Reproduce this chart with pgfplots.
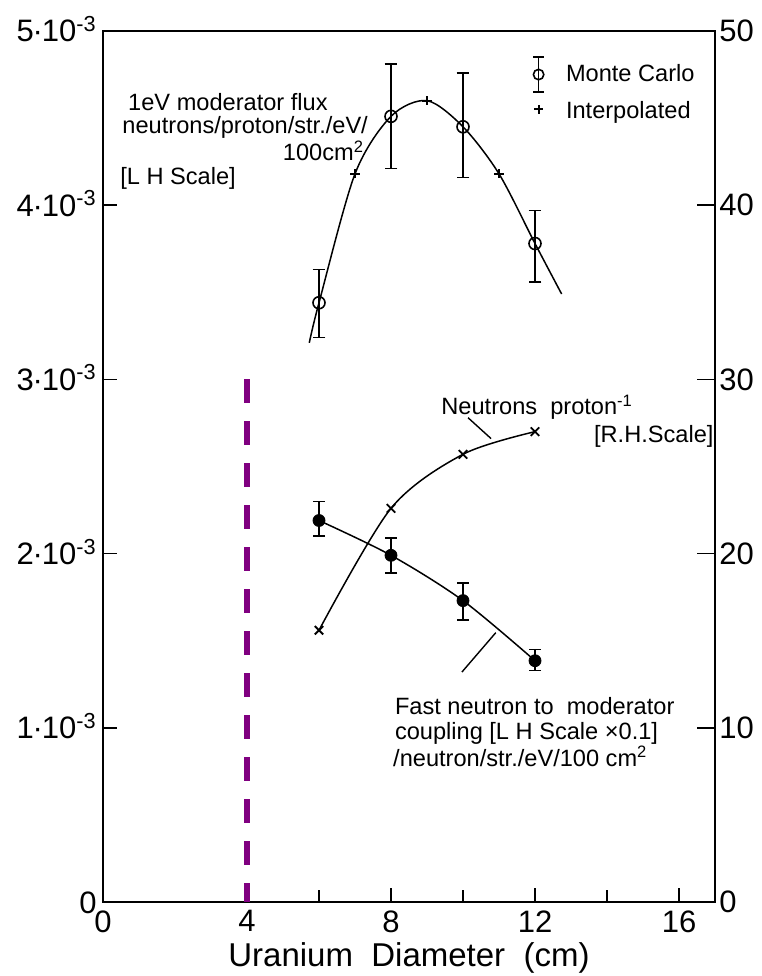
\documentclass[border=0pt]{standalone}
\usepackage{pgfplots}
\pgfplotsset{compat=1.18}
\usepackage{fontspec}
\setmainfont{Liberation Sans}
\definecolor{dashpurple}{RGB}{128,0,128}
\newcommand\af{\fontsize{11.8}{14}\selectfont}
\newcommand\tf{\fontsize{15.5}{18}\selectfont}
\newcommand\cd{\kern-0.6pt·\kern-0.6pt}
\begin{document}
\begin{tikzpicture}
\begin{axis}[name=ax, scale only axis, width=306pt, height=435.5pt,
  xmin=0, xmax=17, ymin=0, ymax=5,
  clip=false,
  axis line style={line width=0.8pt},
  tick align=inside, xtick pos=left, ytick pos=left,
  tick style={line width=0.8pt, black},
  major tick length=7pt, minor tick length=6pt,
  xtick={0,4,8,12,16}, minor xtick={6,10,14},
  ytick={0,1,2,3,4,5},
  yticklabels={0, 1\cd10\textsuperscript{-3}, 2\cd10\textsuperscript{-3}, 3\cd10\textsuperscript{-3}, 4\cd10\textsuperscript{-3}, 5\cd10\textsuperscript{-3}},
  /pgf/number format/assume math mode=true,
  xticklabel style={font=\tf, anchor=north, inner sep=0pt, yshift=-4pt},
  yticklabel style={font=\tf, anchor=base east, inner sep=0pt, xshift=-3pt, yshift=-5.5pt},
  xlabel={Uranium\ \ Diameter\ \ (cm)},
  xlabel style={font=\fontsize{16.5}{20}\selectfont, at={(axis description cs:0.5,0)}, anchor=center, yshift=-28pt},
]
% dashed marker line
\addplot[dashpurple, line width=3.3pt, dash pattern=on 12pt off 9pt] coordinates {(4,3) (4,0)};
% upper curve
\addplot[black, line width=0.75pt, smooth] coordinates {(5.73,3.21) (6,3.44) (7,4.18) (8,4.51) (9,4.60) (10,4.45) (11,4.18) (12,3.78) (12.74,3.49)};
\addplot[black, only marks, mark=o, mark size=3pt, mark options={fill=white, line width=0.8pt},
  error bars/.cd, y dir=both, y explicit,
  error bar style={line width=0.8pt, black},
  error mark options={rotate=90, mark size=3.2pt, line width=0.8pt, black}]
  coordinates {(6,3.44) += (0,0.19) -= (0,0.20)
               (8,4.51) += (0,0.30) -= (0,0.30)
               (10,4.45) += (0,0.31) -= (0,0.29)
               (12,3.78) += (0,0.19) -= (0,0.22)};
\addplot[black, only marks, mark=+, mark size=2.3pt, mark options={line width=0.9pt}] coordinates {(7,4.18) (9,4.60) (11,4.18)};
% lower curve (filled)
\addplot[black, line width=0.75pt, smooth] coordinates {(6,2.19) (8,1.99) (10,1.73) (12,1.385)};
\addplot[black, only marks, mark=*, mark size=3pt,
  error bars/.cd, y dir=both, y explicit,
  error bar style={line width=0.8pt, black},
  error mark options={rotate=90, mark size=3pt, line width=0.8pt, black}]
  coordinates {(6,2.19) += (0,0.11) -= (0,0.09)
               (8,1.99) += (0,0.10) -= (0,0.10)
               (10,1.73) += (0,0.10) -= (0,0.11)
               (12,1.385) += (0,0.065) -= (0,0.055)};
% legend symbols
\addplot[black, only marks, mark=o, mark size=2.6pt, mark options={fill=white, line width=0.8pt},
  error bars/.cd, y dir=both, y explicit,
  error bar style={line width=0.8pt, black},
  error mark options={rotate=90, mark size=2.6pt, line width=0.8pt, black}]
  coordinates {(12.1,4.75) += (0,0.10) -= (0,0.10)};
\addplot[black, only marks, mark=+, mark size=2.3pt, mark options={line width=0.9pt}] coordinates {(12.1,4.55)};
% leader lines
\addplot[black, line width=0.7pt] coordinates {(10.14,2.78) (10.78,2.66)};
\addplot[black, line width=0.7pt] coordinates {(9.97,1.32) (10.91,1.546)};
% annotations
\node[anchor=base west, inner sep=0pt, font=\af] at (axis cs:0.69,4.545) {1eV moderator flux};
\node[anchor=base west, inner sep=0pt, font=\af] at (axis cs:0.53,4.41) {neutrons/proton/str./eV/};
\node[anchor=base east, inner sep=0pt, font=\af] at (axis cs:7.26,4.255) {100cm\textsuperscript{2}};
\node[anchor=base west, inner sep=0pt, font=\af] at (axis cs:0.47,4.12) {[L H Scale]};
\node[anchor=base west, inner sep=0pt, font=\af] at (axis cs:12.85,4.71) {Monte Carlo};
\node[anchor=base west, inner sep=0pt, font=\af] at (axis cs:12.85,4.50) {Interpolated};
\node[anchor=base west, inner sep=0pt, font=\af] at (axis cs:9.39,2.796) {Neutrons\ \ proton\textsuperscript{-1}};
\node[anchor=base west, inner sep=0pt, font=\af] at (axis cs:13.63,2.64) {[R.H.Scale]};
\node[anchor=base west, inner sep=0pt, font=\af] at (axis cs:8.1,1.077) {Fast neutron to\ \ moderator};
\node[anchor=base west, inner sep=0pt, font=\af] at (axis cs:8.1,0.934) {coupling [L H Scale ×0.1]};
\node[anchor=base west, inner sep=0pt, font=\af] at (axis cs:8.05,0.779) {/neutron/str./eV/100 cm\textsuperscript{2}};
\end{axis}
\begin{axis}[scale only axis, width=306pt, height=435.5pt,
  xmin=0, xmax=17, ymin=0, ymax=50,
  clip=false,
  axis y line*=right, axis x line=none,
  axis line style={line width=0.8pt},
  tick align=inside, tick style={line width=0.8pt, black},
  major tick length=9pt,
  ytick={0,10,20,30,40,50},
  /pgf/number format/assume math mode=true,
  yticklabel style={font=\tf, anchor=west, inner sep=0pt, xshift=2pt},
]
\addplot[black, line width=0.75pt, smooth] coordinates {(6,15.6) (8,22.6) (10,25.7) (12,27.0)};
\addplot[black, only marks, mark=x, mark size=3pt, mark options={line width=0.9pt}] coordinates {(6,15.6) (8,22.6) (10,25.7) (12,27.0)};
\end{axis}
\pgfresetboundingbox
\path ([shift={(-51.5pt,-37pt)}]ax.south west) rectangle ([shift={(23pt,15.5pt)}]ax.north east);
\end{tikzpicture}
\end{document}
